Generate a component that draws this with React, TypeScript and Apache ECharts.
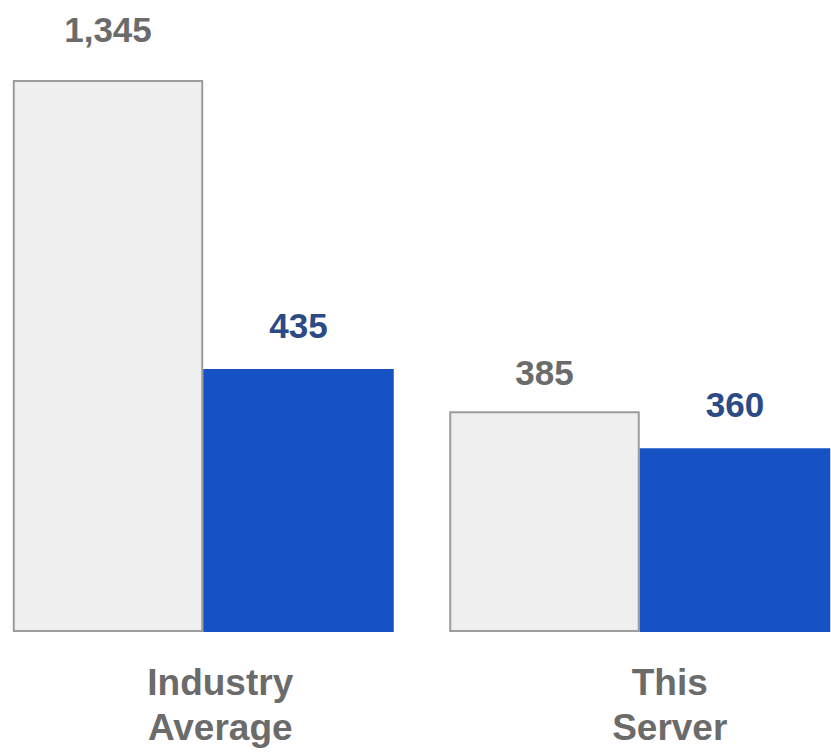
import React, { useEffect, useRef } from "react";
import * as echarts from "echarts";

const categories = ["Industry\nAverage", "This\nServer"];
// values printed on the bars
const industryLabels = [1345, 385];
const serverLabels = [435, 360];
// bar heights as drawn in the picture (same unit as the 1,345 bar)
const industryHeights = [1345, 538];
const serverHeights = [641, 448];

const GRAY_TEXT = "#6b6b6b";
const BLUE_TEXT = "#2b4a86";
const FONT = "'Liberation Sans', Arial, sans-serif";

export default function App() {
  const ref = useRef<HTMLDivElement>(null);
  useEffect(() => {
    document.body.style.margin = "0";
    const chart = echarts.init(ref.current!, null, { renderer: "svg" });
    chart.setOption({
      animation: false,
      grid: {
        left: -15,
        width: 873,
        top: 80,
        bottom: 121,
        outerBoundsMode: "none",
        containLabel: false,
      },
      xAxis: {
        type: "category",
        data: categories,
        axisLine: { show: false },
        axisTick: { show: false },
        axisLabel: {
          margin: 28,
          formatter: (v: string, i: number) => {
            const tag = i === 0 ? "a" : "b";
            return v
              .split("\n")
              .map((l) => `{${tag}|${l}}`)
              .join("\n");
          },
          rich: {
            a: {
              fontFamily: FONT,
              fontWeight: "bold",
              fontSize: 37,
              lineHeight: 45,
              color: GRAY_TEXT,
              padding: [0, 0, 0, 34],
            },
            b: {
              fontFamily: FONT,
              fontWeight: "bold",
              fontSize: 37,
              lineHeight: 45,
              color: GRAY_TEXT,
              padding: [0, 0, 0, 60],
            },
          },
        },
      },
      yAxis: {
        type: "value",
        min: 0,
        max: 1345,
        show: false,
        splitLine: { show: false },
      },
      series: [
        {
          type: "bar",
          data: industryHeights.map((v, i) =>
            i === 0 ? { value: v, label: { distance: 33 } } : v
          ),
          barWidth: 190.5,
          barGap: "0%",
          itemStyle: { color: "#efefef", borderColor: "#9c9c9c", borderWidth: 2 },
          label: {
            show: true,
            position: "top",
            distance: 21,
            fontFamily: FONT,
            fontWeight: "bold",
            fontSize: 35,
            color: GRAY_TEXT,
            formatter: (p: any) => industryLabels[p.dataIndex].toLocaleString("en-US"),
          },
        },
        {
          type: "bar",
          data: serverHeights,
          barWidth: 190.5,
          barGap: "0%",
          itemStyle: { color: "#1652c4" },
          label: {
            show: true,
            position: "top",
            distance: 26,
            fontFamily: FONT,
            fontWeight: "bold",
            fontSize: 35,
            color: BLUE_TEXT,
            formatter: (p: any) => serverLabels[p.dataIndex].toLocaleString("en-US"),
          },
        },
      ],
    });
    return () => chart.dispose();
  }, []);
  return <div ref={ref} style={{ width: 831, height: 753 }} />;
}
